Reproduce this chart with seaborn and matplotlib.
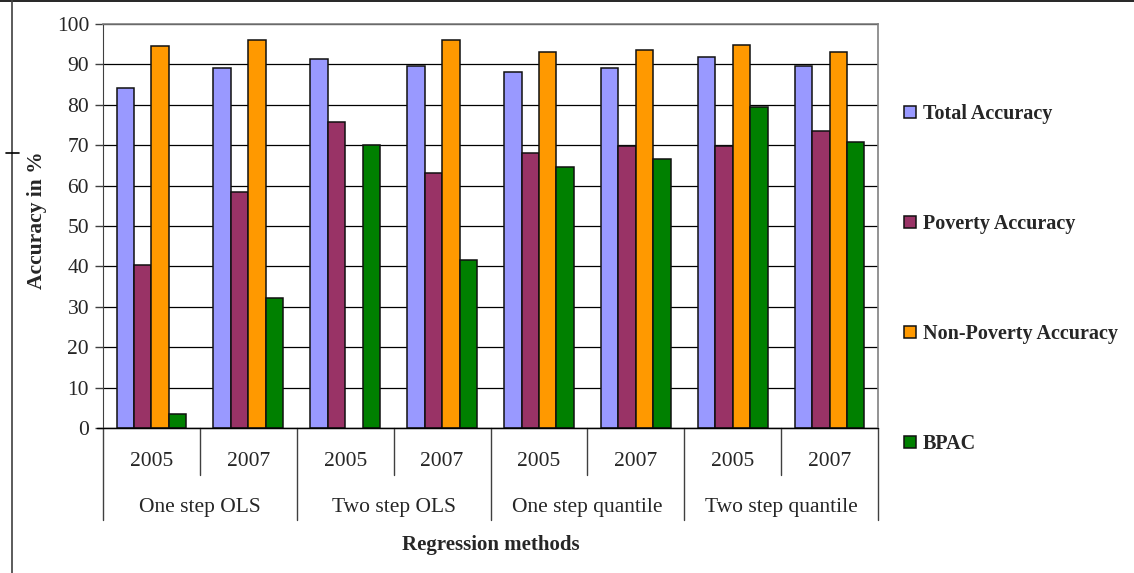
import matplotlib
matplotlib.use("Agg")
import matplotlib.pyplot as plt
import matplotlib.transforms as mtransforms
from matplotlib.lines import Line2D
import seaborn as sns
import numpy as np
import pandas as pd

# データ
methods = ["One step OLS", "Two step OLS", "One step quantile", "Two step quantile"]
years = ["2005", "2007"]
metrics = ["Total Accuracy", "Poverty Accuracy", "Non-Poverty Accuracy", "BPAC"]

total = [84.2, 89.2, 91.4, 89.7, 88.2, 89.2, 91.8, 89.6]
poverty = [40.3, 58.4, 75.7, 63.2, 68.1, 69.7, 69.7, 73.5]
non_poverty = [94.5, 96.0, np.nan, 96.0, 93.1, 93.5, 94.8, 93.1]
bpac = [3.5, 32.1, 70.1, 41.7, 64.6, 66.5, 79.4, 70.7]

colors = ["#9999FF", "#993366", "#FF9900", "#008000"]

sns.set_style("white")
plt.rcParams['font.family'] = ['Liberation Serif', 'DejaVu Serif']

# long形式に変換
slots = [m + "|" + y for m in methods for y in years]
rows = []
for name, vals in zip(metrics, [total, poverty, non_poverty, bpac]):
    for slot, v in zip(slots, vals):
        if not np.isnan(v):
            rows.append({"slot": slot, "metric": name, "value": v})
df = pd.DataFrame(rows)

W, H = 1134, 573
fig = plt.figure(figsize=(W / 100, H / 100), dpi=100)
left, right, top, bottom = 103, 878, 24, 428
ax = fig.add_axes([left / W, 1 - bottom / H, (right - left) / W, (bottom - top) / H])

sns.barplot(data=df, x="slot", y="value", hue="metric", order=slots, hue_order=metrics,
            palette=colors, saturation=1, width=0.72, edgecolor="#101010", linewidth=1.1,
            errorbar=None, ax=ax)

ax.set_ylim(0, 100)
ax.set_xlim(-0.5, len(slots) - 0.5)
ax.set_yticks(range(0, 101, 10))
ax.yaxis.grid(True, color="black", linewidth=0.9)
ax.set_axisbelow(True)
ax.tick_params(axis="y", left=True, length=6, width=1, color="#404040", labelsize=15.5, pad=4)
ax.set_xticks([])
ax.set_xlabel("")
ax.set_ylabel("")

for side in ["top", "right"]:
    ax.spines[side].set_color("#808080")
    ax.spines[side].set_linewidth(1.2)
ax.spines["left"].set_color("#404040")
ax.spines["bottom"].set_color("black")

# 2段のカテゴリラベル
trans = mtransforms.blended_transform_factory(ax.transData, ax.transAxes)
ax.plot([-0.56, len(slots) - 0.5], [0, 0], color="black", lw=1, transform=trans, clip_on=False)
for i, slot in enumerate(slots):
    year = slot.split("|")[1]
    ax.text(i, -0.084, year, transform=trans, ha="center", va="center", fontsize=15.5)
for j, m in enumerate(methods):
    ax.text(2 * j + 0.5, -0.196, m, transform=trans, ha="center", va="center", fontsize=15.5)
for k in range(len(slots) + 1):
    x = k - 0.5
    y_end = -0.228 if k % 2 == 0 else -0.116
    ax.plot([x, x], [0, y_end], color="#404040", lw=1, transform=trans, clip_on=False)

ax.text(0.5, -0.29, "Regression methods", transform=ax.transAxes, ha="center", va="center",
        fontsize=15, fontweight="bold")
fig.text(37 / W, 1 - 220 / H, "Accuracy in %", rotation=90, ha="center", va="center",
         fontsize=15.5, fontweight="bold")

# 凡例
handles, labels = ax.get_legend_handles_labels()
ax.legend(handles, labels, loc="upper left", bbox_to_anchor=(896 / W, 1 - 96 / H),
          bbox_transform=fig.transFigure, frameon=False, prop={"weight": "bold", "size": 14.5},
          handlelength=0.6, handleheight=0.6, handletextpad=0.35, labelspacing=4.47,
          borderaxespad=0)

# 外枠
fig.add_artist(Line2D([0, 1], [1 - 1 / H, 1 - 1 / H], color="black", lw=1.2,
                      transform=fig.transFigure))
fig.add_artist(Line2D([12 / W, 12 / W], [0, 1], color="#404040", lw=1.2,
                      transform=fig.transFigure))
fig.add_artist(Line2D([6 / W, 19 / W], [1 - 153 / H, 1 - 153 / H], color="black", lw=1.2,
                      transform=fig.transFigure))

fig.savefig("out.png", dpi=100)
